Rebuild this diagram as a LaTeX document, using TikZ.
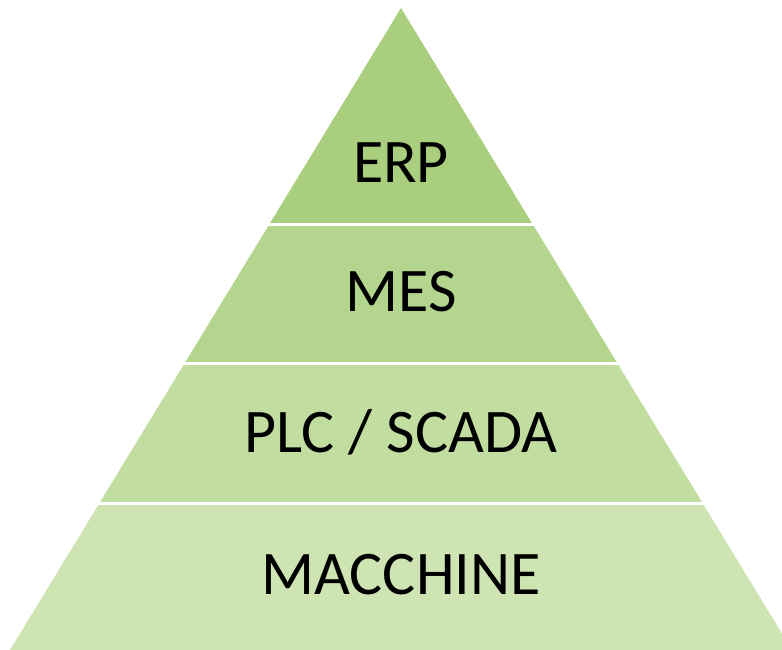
\documentclass[tikz,border=0pt]{standalone}
\usepackage{fontspec}
\setmainfont{Carlito}
\definecolor{bandA}{HTML}{A8CE7E}
\definecolor{bandB}{HTML}{B4D58E}
\definecolor{bandC}{HTML}{C1DDA0}
\definecolor{bandD}{HTML}{CEE4B3}
\begin{document}
\begin{tikzpicture}[x=1pt,y=-1pt,
  lbl/.style={font=\fontsize{62}{70}\selectfont, text=black, inner sep=0pt, anchor=center},
  sep/.style={draw=white, line width=3pt}]
\useasboundingbox (0,0) rectangle (782,650);
\clip (0,0) rectangle (782,650);
\fill[bandA] (401,8) -- (532.5,224) -- (269.5,224) -- cycle;
\fill[bandB] (269.5,224) -- (532.5,224) -- (617.2,363) -- (184.8,363) -- cycle;
\fill[bandC] (184.8,363) -- (617.2,363) -- (702.5,503) -- (99.5,503) -- cycle;
\fill[bandD] (99.5,503) -- (702.5,503) -- (792,650) -- (10,650) -- cycle;
\draw[sep] (268,224) -- (534,224);
\draw[sep] (183,363) -- (619,363);
\draw[sep] (98,503) -- (704,503);
\node[lbl] (erp) at (401,163) {ERP};
\node[lbl] (mes) at (401,292) {MES};
\node[lbl] (plc) at (401,432) {PLC / SCADA};
\node[lbl] (mac) at (401,575) {MACCHINE};
\end{tikzpicture}
\end{document}
